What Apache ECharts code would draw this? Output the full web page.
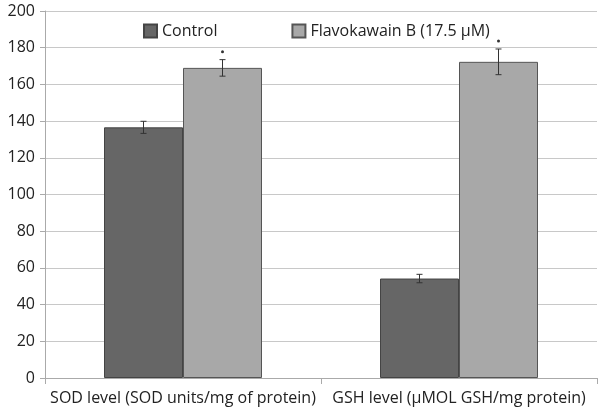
<!DOCTYPE html>
<html><head><meta charset="utf-8">
<script src="https://cdn.jsdelivr.net/npm/echarts@6/dist/echarts.min.js"></script>
<style>html,body{margin:0;padding:0;background:#fff}#c{width:600px;height:411px}</style>
</head><body><div id="c"></div>
<script>
const categories = ['SOD level (SOD units/mg of protein)', 'GSH level (\u00b5MOL GSH/mg protein)'];
const seriesNames = ['Control', 'Flavokawain B (17.5 \u00b5M)'];
const controlValues = [136.6, 54.2];
const controlErrors = [3.3, 2.3];
const flavoValues = [169.0, 172.3];
const flavoErrors = [4.5, 7.0];
const flavoSignificant = [true, true];
const yTicks = [0, 20, 40, 60, 80, 100, 120, 140, 160, 180, 200];

const chart = echarts.init(document.getElementById('c'), null, {renderer: 'canvas'});
const font = 'Open Sans, Liberation Sans, sans-serif';
const barW = 79;
const offsets = [-barW / 2, barW / 2];

function errorSeries(values, errors, idx, stars) {
  return {
    type: 'custom',
    z: 10,
    silent: true,
    data: values.map((v, i) => [i, v, errors[i], stars ? (stars[i] ? 1 : 0) : 0]),
    renderItem: function (params, api) {
      const c = api.value(0), v = api.value(1), e = api.value(2), s = api.value(3);
      const pTop = api.coord([c, v + e]);
      const pBot = api.coord([c, v - e]);
      const x = pTop[0] + offsets[idx];
      const cap = 3;
      const children = [
        {type: 'line', shape: {x1: x, y1: pTop[1], x2: x, y2: pBot[1]}, style: {stroke: '#333', lineWidth: 1}},
        {type: 'line', shape: {x1: x - cap, y1: pTop[1], x2: x + cap, y2: pTop[1]}, style: {stroke: '#333', lineWidth: 1}},
        {type: 'line', shape: {x1: x - cap, y1: pBot[1], x2: x + cap, y2: pBot[1]}, style: {stroke: '#333', lineWidth: 1}}
      ];
      if (s) {
        children.push({type: 'circle', shape: {cx: x, cy: pTop[1] - 8, r: 1.5}, style: {fill: '#333'}});
      }
      return {type: 'group', children: children};
    }
  };
}

chart.setOption({
  animation: false,
  backgroundColor: '#fff',
  grid: {left: 45, right: 3, top: 11, bottom: 33, containLabel: false},
  legend: {
    top: 18,
    left: 138,
    itemGap: 74,
    itemWidth: 13,
    itemHeight: 13,
    icon: 'rect',
    data: seriesNames.map(n => ({name: n})),
    textStyle: {fontFamily: font, fontSize: 16, color: '#222'}
  },
  xAxis: {
    type: 'category',
    data: categories,
    axisLine: {lineStyle: {color: '#aaa'}},
    axisTick: {show: true, length: 6, lineStyle: {color: '#aaa'}},
    axisLabel: {interval: 0, fontFamily: font, fontSize: 16, color: '#222', margin: 12}
  },
  yAxis: {
    type: 'value',
    min: 0, max: 200, interval: 20,
    axisLine: {show: true, lineStyle: {color: '#aaa'}},
    axisTick: {show: true, length: 5, lineStyle: {color: '#aaa'}},
    axisLabel: {fontFamily: font, fontSize: 16, color: '#222', margin: 10,
      formatter: v => yTicks.includes(v) ? String(v) : ''},
    splitLine: {lineStyle: {color: '#c8c8c8'}}
  },
  series: [
    {name: seriesNames[0], type: 'bar', data: controlValues, barWidth: barW, barGap: '0%',
      itemStyle: {color: '#666666', borderColor: '#444', borderWidth: 1}},
    {name: seriesNames[1], type: 'bar', data: flavoValues, barWidth: barW, barGap: '0%',
      itemStyle: {color: '#a8a8a8', borderColor: '#555', borderWidth: 1}},
    errorSeries(controlValues, controlErrors, 0, null),
    errorSeries(flavoValues, flavoErrors, 1, flavoSignificant)
  ]
});
</script>
</body></html>
